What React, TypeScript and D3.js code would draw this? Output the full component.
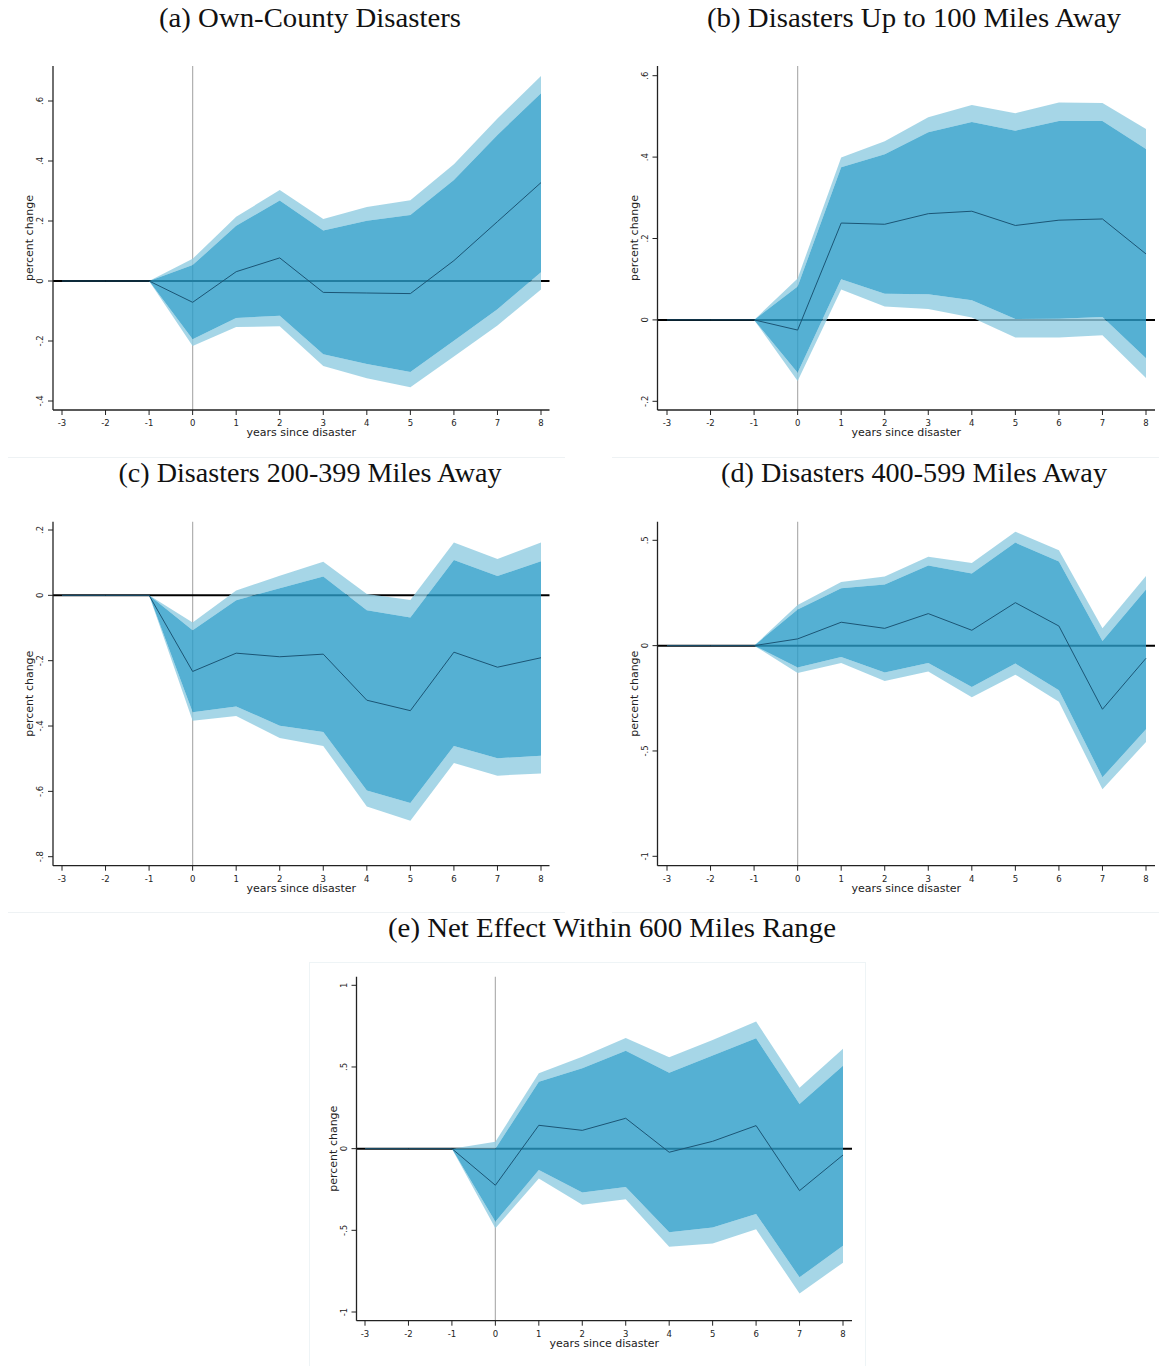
import React from "react";
import * as d3 from "d3";

const years = [-3, -2, -1, 0, 1, 2, 3, 4, 5, 6, 7, 8];

// (a) Own-County Disasters
const aEst = [0, 0, 0, -0.071, 0.031, 0.077, -0.038, -0.04, -0.042, 0.068, 0.198, 0.328];
const aHi90 = [0, 0, 0, 0.053, 0.184, 0.268, 0.168, 0.201, 0.22, 0.337, 0.487, 0.626];
const aHi95 = [0, 0, 0, 0.074, 0.214, 0.303, 0.207, 0.247, 0.269, 0.389, 0.542, 0.683];
const aLo90 = [0, 0, 0, -0.194, -0.123, -0.116, -0.244, -0.277, -0.303, -0.199, -0.094, 0.029];
const aLo95 = [0, 0, 0, -0.217, -0.153, -0.151, -0.283, -0.324, -0.354, -0.252, -0.148, -0.028];

// (b) Up to 100 miles
const bEst = [0, 0, 0, -0.025, 0.238, 0.235, 0.261, 0.267, 0.232, 0.245, 0.248, 0.162];
const bHi90 = [0, 0, 0, 0.082, 0.375, 0.407, 0.461, 0.486, 0.465, 0.489, 0.489, 0.42];
const bHi95 = [0, 0, 0, 0.102, 0.399, 0.439, 0.498, 0.528, 0.508, 0.534, 0.533, 0.469];
const bLo90 = [0, 0, 0, -0.13, 0.1, 0.064, 0.063, 0.048, 0.002, 0.003, 0.007, -0.094];
const bLo95 = [0, 0, 0, -0.15, 0.075, 0.033, 0.027, 0.006, -0.043, -0.043, -0.038, -0.143];

// (c) 200-399 miles
const cEst = [0, 0, 0, -0.233, -0.177, -0.188, -0.18, -0.321, -0.353, -0.174, -0.22, -0.191];
const cHi90 = [0, 0, 0, -0.107, -0.015, 0.022, 0.058, -0.046, -0.068, 0.108, 0.059, 0.104];
const cHi95 = [0, 0, 0, -0.083, 0.015, 0.06, 0.103, 0.004, -0.014, 0.162, 0.111, 0.162];
const cLo90 = [0, 0, 0, -0.358, -0.34, -0.399, -0.418, -0.597, -0.636, -0.461, -0.499, -0.491];
const cLo95 = [0, 0, 0, -0.384, -0.369, -0.437, -0.461, -0.646, -0.69, -0.513, -0.552, -0.545];

// (d) 400-599 miles
const dEst = [0, 0, 0, 0.032, 0.111, 0.082, 0.152, 0.073, 0.204, 0.093, -0.302, -0.06];
const dHi90 = [0, 0, 0, 0.172, 0.272, 0.29, 0.38, 0.343, 0.489, 0.399, 0.022, 0.267];
const dHi95 = [0, 0, 0, 0.193, 0.302, 0.328, 0.422, 0.392, 0.541, 0.453, 0.082, 0.331];
const dLo90 = [0, 0, 0, -0.104, -0.054, -0.127, -0.082, -0.196, -0.085, -0.212, -0.625, -0.397];
const dLo95 = [0, 0, 0, -0.13, -0.082, -0.168, -0.123, -0.245, -0.138, -0.266, -0.682, -0.457];

// (e) Net effect within 600 miles
const eEst = [0, 0, 0, -0.224, 0.143, 0.112, 0.186, -0.022, 0.045, 0.141, -0.257, -0.039];
const eHi90 = [0, 0, 0, 0.0, 0.41, 0.492, 0.6, 0.465, 0.571, 0.676, 0.273, 0.508];
const eHi95 = [0, 0, 0, 0.043, 0.461, 0.563, 0.678, 0.559, 0.665, 0.778, 0.373, 0.612];
const eLo90 = [0, 0, 0, -0.447, -0.131, -0.269, -0.235, -0.512, -0.482, -0.4, -0.788, -0.594];
const eLo95 = [0, 0, 0, -0.488, -0.182, -0.343, -0.31, -0.6, -0.58, -0.494, -0.886, -0.698];

const ticksA = [0.6, 0.4, 0.2, 0, -0.2, -0.4];
const labelsA = [".6", ".4", ".2", "0", "-.2", "-.4"];
const ticksB = [0.6, 0.4, 0.2, 0, -0.2];
const labelsB = [".6", ".4", ".2", "0", "-.2"];
const ticksC = [0.2, 0, -0.2, -0.4, -0.6, -0.8];
const labelsC = [".2", "0", "-.2", "-.4", "-.6", "-.8"];
const ticksD = [0.5, 0, -0.5, -1];
const labelsD = [".5", "0", "-.5", "-1"];
const ticksE = [1, 0.5, 0, -0.5, -1];
const labelsE = ["1", ".5", "0", "-.5", "-1"];

const xTickLabels = ["-3", "-2", "-1", "0", "1", "2", "3", "4", "5", "6", "7", "8"];

const titles = [
  "(a) Own-County Disasters",
  "(b) Disasters Up to 100 Miles Away",
  "(c) Disasters 200-399 Miles Away",
  "(d) Disasters 400-599 Miles Away",
  "(e) Net Effect Within 600 Miles Range",
];

const DARK = "rgb(42,156,200)";
const LIGHT = "rgb(144,204,225)";
const EST = "#1b5575";
const SANS = "'DejaVu Sans', sans-serif";

type PanelProps = {
  title: string;
  titleX: number;
  titleY: number;
  titleW: number;
  left: number;
  right: number;
  xL: number;
  xR: number;
  top: number;
  bottom: number;
  yHiVal: number;
  yHiPx: number;
  yLoVal: number;
  yLoPx: number;
  ticks: number[];
  labels: string[];
  est: number[];
  hi90: number[];
  hi95: number[];
  lo90: number[];
  lo95: number[];
};

function Panel(p: PanelProps) {
  const x = d3.scaleLinear().domain([-3, 8]).range([p.xL, p.xR]);
  const y = d3.scaleLinear().domain([p.yLoVal, p.yHiVal]).range([p.yLoPx, p.yHiPx]);
  const idx = years.map((_, i) => i);
  const band = (lo: number[], hi: number[]) =>
    d3
      .area<number>()
      .x((i) => x(years[i]))
      .y0((i) => y(lo[i]))
      .y1((i) => y(hi[i]))(idx) || "";
  const line = d3
    .line<number>()
    .x((i) => x(years[i]))
    .y((i) => y(p.est[i]))(idx) || "";
  const mid = (p.left + p.right) / 2;
  const midY = (p.top + p.bottom) / 2;
  return (
    <g>
      <text
        x={p.titleX}
        y={p.titleY}
        textAnchor="middle"
        fontFamily="'Liberation Serif', serif"
        fontSize={28}
        textLength={p.titleW}
        lengthAdjust="spacingAndGlyphs"
        fill="#111"
      >
        {p.title}
      </text>
      {/* reference lines */}
      <line x1={x(0)} x2={x(0)} y1={p.top} y2={p.bottom} stroke="#b0b0b0" strokeWidth={1.2} />
      <line x1={p.left} x2={p.right} y1={y(0)} y2={y(0)} stroke="#000" strokeWidth={2} />
      {/* confidence bands */}
      <path d={band(p.hi90, p.hi95)} fill={LIGHT} fillOpacity={0.8} />
      <path d={band(p.lo95, p.lo90)} fill={LIGHT} fillOpacity={0.8} />
      <path d={band(p.lo90, p.hi90)} fill={DARK} fillOpacity={0.8} />
      <path d={line} fill="none" stroke={EST} strokeWidth={1} />
      {/* axes */}
      <line x1={p.left} x2={p.left} y1={p.top} y2={p.bottom} stroke="#222" strokeWidth={1.3} />
      <line x1={p.left} x2={p.right} y1={p.bottom} y2={p.bottom} stroke="#222" strokeWidth={1.3} />
      {years.map((v, i) => (
        <g key={"xt" + i}>
          <line x1={x(v)} x2={x(v)} y1={p.bottom} y2={p.bottom + 5} stroke="#222" strokeWidth={1} />
          <text x={x(v)} y={p.bottom + 16} textAnchor="middle" fontFamily={SANS} fontSize={8.5} fill="#222">
            {xTickLabels[i]}
          </text>
        </g>
      ))}
      {p.ticks.map((v, i) => (
        <g key={"yt" + i}>
          <line x1={p.left - 5} x2={p.left} y1={y(v)} y2={y(v)} stroke="#222" strokeWidth={1} />
          <text
            transform={`translate(${p.left - 10},${y(v)}) rotate(-90)`}
            textAnchor="middle"
            fontFamily={SANS}
            fontSize={8.5}
            fill="#222"
          >
            {p.labels[i]}
          </text>
        </g>
      ))}
      <text x={mid} y={p.bottom + 26} textAnchor="middle" fontFamily={SANS} fontSize={11} fill="#222">
        years since disaster
      </text>
      <text
        transform={`translate(${p.left - 20},${midY}) rotate(-90)`}
        textAnchor="middle"
        fontFamily={SANS}
        fontSize={11}
        fill="#222"
      >
        percent change
      </text>
    </g>
  );
}

export default function App() {
  return (
    <svg
      width={1159}
      height={1366}
      style={{ position: "absolute", left: 0, top: 0, background: "#fff" }}
    >
      <rect x={0} y={0} width={1159} height={1366} fill="#fff" />
      {/* faint separators */}
      <line x1={8} x2={565} y1={457.5} y2={457.5} stroke="#eef2f4" strokeWidth={1} />
      <line x1={612} x2={1159} y1={457.5} y2={457.5} stroke="#eef2f4" strokeWidth={1} />
      <line x1={8} x2={565} y1={912.5} y2={912.5} stroke="#eef2f4" strokeWidth={1} />
      <line x1={612} x2={1159} y1={912.5} y2={912.5} stroke="#eef2f4" strokeWidth={1} />
      <rect x={309.5} y={962.5} width={556} height={420} fill="none" stroke="#eef4f6" strokeWidth={1} />
      <Panel
        title={titles[0]} titleX={310} titleY={27} titleW={302}
        left={53} right={549.5} xL={62} xR={541} top={66} bottom={410}
        yHiVal={0.6} yHiPx={101} yLoVal={-0.4} yLoPx={401}
        ticks={ticksA} labels={labelsA}
        est={aEst} hi90={aHi90} hi95={aHi95} lo90={aLo90} lo95={aLo95}
      />
      <Panel
        title={titles[1]} titleX={914} titleY={27} titleW={414}
        left={657.5} right={1155} xL={667} xR={1146} top={66} bottom={410}
        yHiVal={0.6} yHiPx={75.7} yLoVal={-0.2} yLoPx={401.3}
        ticks={ticksB} labels={labelsB}
        est={bEst} hi90={bHi90} hi95={bHi95} lo90={bLo90} lo95={bLo95}
      />
      <Panel
        title={titles[2]} titleX={310} titleY={482} titleW={383}
        left={53} right={549.5} xL={62} xR={541} top={521.7} bottom={865.7}
        yHiVal={0.2} yHiPx={530} yLoVal={-0.8} yLoPx={856.7}
        ticks={ticksC} labels={labelsC}
        est={cEst} hi90={cHi90} hi95={cHi95} lo90={cLo90} lo95={cLo95}
      />
      <Panel
        title={titles[3]} titleX={914} titleY={482} titleW={386}
        left={657.5} right={1155} xL={667} xR={1146} top={521.7} bottom={865.7}
        yHiVal={0.5} yHiPx={540.3} yLoVal={-1} yLoPx={856.3}
        ticks={ticksD} labels={labelsD}
        est={dEst} hi90={dHi90} hi95={dHi95} lo90={dLo90} lo95={dLo95}
      />
      <Panel
        title={titles[4]} titleX={612} titleY={937} titleW={448}
        left={356.5} right={852} xL={365} xR={843} top={976.7} bottom={1320.7}
        yHiVal={1} yHiPx={985.3} yLoVal={-1} yLoPx={1312}
        ticks={ticksE} labels={labelsE}
        est={eEst} hi90={eHi90} hi95={eHi95} lo90={eLo90} lo95={eLo95}
      />
    </svg>
  );
}
